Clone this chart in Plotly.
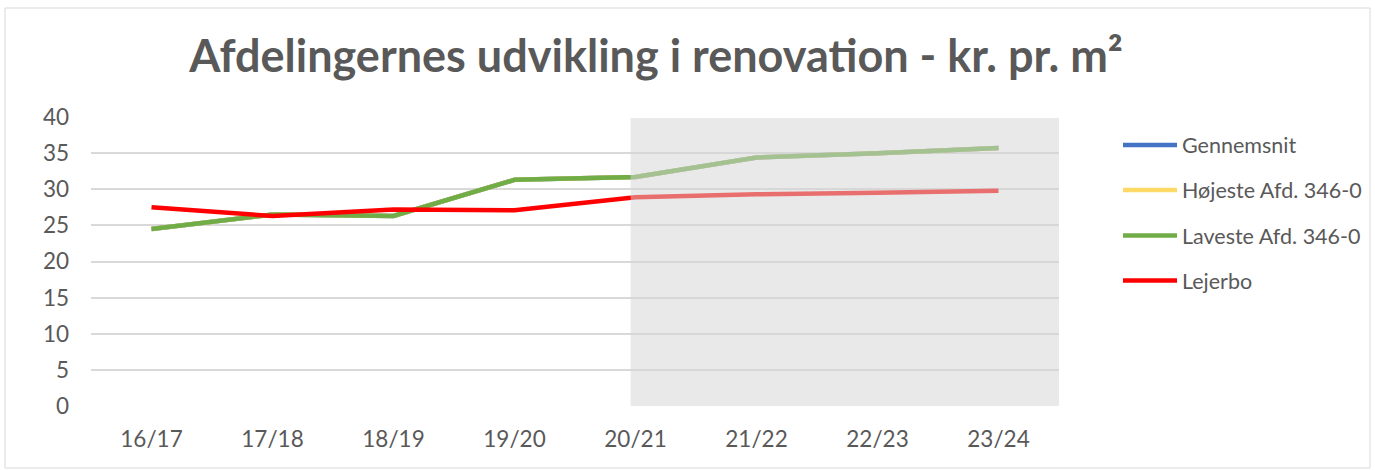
import plotly.graph_objects as go

categories = ["16/17", "17/18", "18/19", "19/20", "20/21", "21/22", "22/23", "23/24"]
gennemsnit = [24.5, 26.5, 26.3, 31.3, 31.7, 34.4, 35.0, 35.7]
hojeste = [24.5, 26.5, 26.3, 31.3, 31.7, 34.4, 35.0, 35.7]
laveste = [24.5, 26.5, 26.3, 31.3, 31.7, 34.4, 35.0, 35.7]
lejerbo = [27.5, 26.3, 27.2, 27.1, 28.9, 29.3, 29.5, 29.8]
series_names = ["Gennemsnit", "Højeste Afd. 346-0", "Laveste Afd. 346-0", "Lejerbo"]
series_colors = ["#4472C4", "#FFD966", "#70AD47", "#FF0000"]
y_ticks = [0, 5, 10, 15, 20, 25, 30, 35, 40]

W, H = 1375, 470
L, R, T, B = 91, 1059, 117, 406

series_values = [gennemsnit, hojeste, laveste, lejerbo]

fig = go.Figure()
for name, vals, col in zip(series_names, series_values, series_colors):
    fig.add_trace(go.Scatter(
        x=list(range(len(categories))), y=vals, name=name, mode="lines",
        line=dict(color=col, width=4.5), showlegend=False,
    ))

def px_x(p):
    return (p - L) / (R - L)

def px_y(p):
    return (B - p) / (B - T)

font_family = "Lato, 'Open Sans', sans-serif"
text_color = "#595959"

# shaded forecast region (drawn above lines, semi-transparent)
fig.add_shape(type="rect", xref="x", yref="y", x0=3.96, x1=7.5, y0=-0.3, y1=39.85,
              fillcolor="rgba(212,212,212,0.52)", line=dict(width=0), layer="above")
# chart border
fig.add_shape(type="rect", xref="paper", yref="paper",
              x0=px_x(5), x1=px_x(1370), y0=px_y(468), y1=px_y(8),
              line=dict(color="#D9D9D9", width=1), fillcolor="rgba(0,0,0,0)", layer="below")

# legend (drawn manually to match the long legend keys)
leg_y = [145, 190, 235.5, 280.5]
for name, col, yy in zip(series_names, series_colors, leg_y):
    fig.add_shape(type="line", xref="paper", yref="paper",
                  x0=px_x(1123), x1=px_x(1177), y0=px_y(yy), y1=px_y(yy),
                  line=dict(color=col, width=4.5))
    fig.add_annotation(xref="paper", yref="paper", x=px_x(1180), y=px_y(yy),
                       text=name, showarrow=False, xanchor="left", yanchor="middle",
                       font=dict(family=font_family, size=21.5, color=text_color))

fig.update_layout(
    width=W, height=H,
    margin=dict(l=L, r=W - R, t=T, b=H - B, autoexpand=False),
    paper_bgcolor="white", plot_bgcolor="white",
    title=dict(text="<b>Afdelingernes udvikling i renovation - kr. pr. m²</b>",
               x=656 / W, xanchor="center", y=1 - 56 / H, yanchor="middle",
               font=dict(family=font_family, size=45, color=text_color)),
    xaxis=dict(range=[-0.5, 7.5], tickmode="array", tickvals=list(range(len(categories))),
               ticktext=categories, showgrid=False, zeroline=False, showline=False,
               ticks="", ticklabelstandoff=17,
               tickfont=dict(family=font_family, size=22.5, color=text_color)),
    yaxis=dict(range=[0, 40], tickmode="array", tickvals=y_ticks,
               showgrid=True, gridcolor="#D9D9D9", gridwidth=1.5, zeroline=False,
               showline=False, ticks="", ticklabelstandoff=21,
               tickfont=dict(family=font_family, size=22.5, color=text_color)),
    showlegend=False,
)

fig.write_html("out.html", config={"displayModeBar": False},
               post_script="document.body.style.margin='0px';")
